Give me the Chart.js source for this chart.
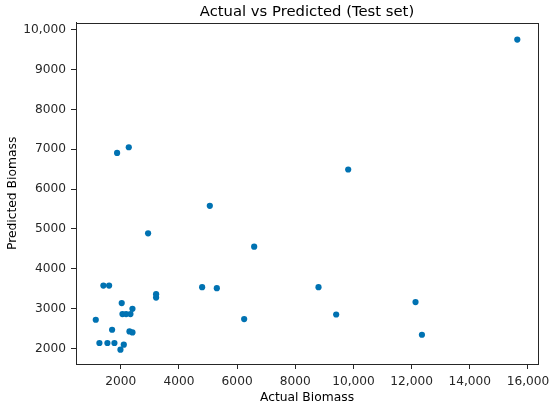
<!DOCTYPE html>
<html>
<head>
<meta charset="utf-8">
<script src="https://cdn.jsdelivr.net/npm/chart.js@4/dist/chart.umd.min.js"></script>
<style>
  html, body { margin: 0; padding: 0; background: #fff; }
  #wrap { width: 550px; height: 407px; }
</style>
</head>
<body>
<div id="wrap"><canvas id="scatterChart" width="550" height="407"></canvas></div>
<script>
// values
const actualBiomass = [1873, 2275, 5061, 2939, 6586, 1402, 1598, 4797, 5302, 3214, 3214,
    2032, 2401, 2057, 2183, 2332, 1140, 6242, 1701, 2298, 2401, 1265, 1540, 1781, 1988,
    2103, 9819, 8798, 9406, 12134, 12354, 15633];
const predictedBiomass = [6907, 7050, 5580, 4889, 4554, 3577, 3577, 3537, 3512, 3362, 3277,
    3137, 2994, 2861, 2861, 2861, 2719, 2736, 2468, 2426, 2401, 2135, 2135, 2135, 1967,
    2093, 6492, 3537, 2851, 3162, 2343, 9754];

const xTicks = [2000, 4000, 6000, 8000, 10000, 12000, 14000, 16000];
const xTickLabels = ['2000', '4000', '6000', '8000', '10,000', '12,000', '14,000', '16,000'];
const yTicks = [2000, 3000, 4000, 5000, 6000, 7000, 8000, 9000, 10000];
const yTickLabels = ['2000', '3000', '4000', '5000', '6000', '7000', '8000', '9000', '10,000'];

const FONT = 'DejaVu Sans';
const INK = '#262626';

const frame = {
    id: 'frame',
    afterDraw(chart) {
        const a = chart.chartArea;
        const ctx = chart.ctx;
        ctx.save();
        ctx.strokeStyle = INK;
        ctx.lineWidth = 1;
        ctx.strokeRect(Math.round(a.left) + 0.5, Math.round(a.top) + 0.5,
            Math.round(a.right - a.left), Math.round(a.bottom - a.top));
        ctx.restore();
    }
};

function fixedTicks(values) {
    return scale => { scale.ticks = values.map(v => ({ value: v })); };
}

new Chart(document.getElementById('scatterChart'), {
    type: 'scatter',
    data: {
        datasets: [{
            data: actualBiomass.map((x, i) => ({ x: x, y: predictedBiomass[i] })),
            backgroundColor: '#0072b2',
            borderColor: '#0072b2',
            borderWidth: 0,
            pointRadius: 3.1,
            pointHoverRadius: 3.1
        }]
    },
    options: {
        responsive: false,
        animation: false,
        layout: { padding: { left: 0, right: 12, top: 0, bottom: 0 } },
        plugins: {
            legend: { display: false },
            tooltip: { enabled: false },
            title: {
                display: true,
                text: 'Actual vs Predicted (Test set)',
                fullSize: false,
                color: '#000',
                font: { family: FONT, size: 14.8, weight: 'normal' },
                padding: { top: 3, bottom: 2 }
            }
        },
        scales: {
            x: {
                type: 'linear',
                min: 460,
                max: 16345,
                afterBuildTicks: fixedTicks(xTicks),
                afterFit: s => { s.height = 43; s.paddingRight = 0; s.paddingLeft = 0; },
                ticks: {
                    autoSkip: false,
                    maxRotation: 0,
                    color: INK,
                    padding: 6,
                    font: { family: FONT, size: 12.2 },
                    callback: (v, i) => xTickLabels[i]
                },
                grid: { drawOnChartArea: false, drawTicks: true, tickLength: 5, tickColor: INK },
                border: { color: INK },
                title: {
                    display: true,
                    text: 'Actual Biomass',
                    color: '#000',
                    font: { family: FONT, size: 12.3 },
                    padding: { top: 2, bottom: 2 }
                }
            },
            y: {
                type: 'linear',
                min: 1608,
                max: 10176,
                afterBuildTicks: fixedTicks(yTicks),
                afterFit: s => { s.width = 76; s.paddingTop = 0; s.paddingBottom = 0; },
                ticks: {
                    autoSkip: false,
                    color: INK,
                    padding: 5,
                    font: { family: FONT, size: 12.2 },
                    callback: (v, i) => yTickLabels[i]
                },
                grid: { drawOnChartArea: false, drawTicks: true, tickLength: 5, tickColor: INK },
                border: { color: INK },
                title: {
                    display: true,
                    text: 'Predicted Biomass',
                    color: '#000',
                    font: { family: FONT, size: 12.3 },
                    padding: { top: 5, bottom: 2 }
                }
            }
        }
    },
    plugins: [frame]
});
</script>
</body>
</html>
